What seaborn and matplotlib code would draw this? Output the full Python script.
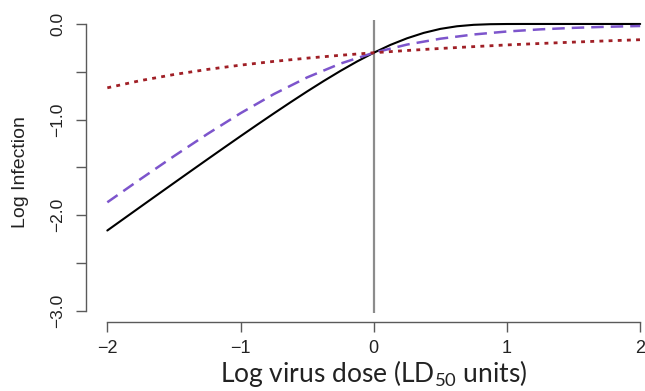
import matplotlib
matplotlib.use("Agg")
import matplotlib.pyplot as plt
import seaborn as sns
import numpy as np

# ---- data ----
x_fine = [-2.0, -1.875, -1.75, -1.625, -1.5, -1.375, -1.25, -1.125, -1.0, -0.875,
          -0.75, -0.625, -0.5, -0.375, -0.25, -0.125, 0.0, 0.125, 0.25, 0.375,
          0.5, 0.625, 0.75, 0.875, 1.0, 1.125, 1.25, 1.375, 1.5, 1.625, 1.75, 1.875, 2.0]
black_y = [-2.1607, -2.0362, -1.9118, -1.7877, -1.6639, -1.5405, -1.4176, -1.2954, -1.1741, -1.0541,
           -0.9357, -0.8194, -0.7059, -0.5961, -0.4911, -0.3922, -0.3010, -0.2189, -0.1497, -0.0933,
           -0.0514, -0.0240, -0.0089, -0.0024, -0.0004, 0.0, 0.0, 0.0, 0.0, 0.0, 0.0, 0.0, 0.0]

x_coarse = [-2.0, -1.75, -1.5, -1.25, -1.0, -0.75, -0.5, -0.25, 0.0,
            0.25, 0.5, 0.75, 1.0, 1.25, 1.5, 1.75, 2.0]
purple_y = [-1.8655, -1.6219, -1.3831, -1.1521, -0.9336, -0.7337, -0.5591, -0.4145, -0.3010,
            -0.2154, -0.1542, -0.1100, -0.0787, -0.0564, -0.0406, -0.0293, -0.0212]
red_y = [-0.6679, -0.5921, -0.5290, -0.4758, -0.4305, -0.3915, -0.3574, -0.3275, -0.3010,
         -0.2774, -0.2562, -0.2371, -0.2192, -0.2041, -0.1898, -0.1767, -0.1646]

x_ticks = [-2, -1, 0, 1, 2]
x_ticklabels = ["\u22122", "\u22121", "0", "1", "2"]
y_ticks = [-3.0, -2.5, -2.0, -1.5, -1.0, -0.5, 0.0]
y_ticklabels = ["\u22123.0", "", "\u22122.0", "", "\u22121.0", "", "0.0"]
vline_x = 0.0
vline_span = [-3.02, 0.04]

x_label = "Log virus dose (LD$_{50}$ units)"
y_label = "Log Infection"

# ---- style ----
sns.set_style("ticks")
plt.rcParams["font.family"] = ["Liberation Sans", "DejaVu Sans"]
plt.rcParams["mathtext.fontset"] = "custom"
plt.rcParams["mathtext.rm"] = "Lato"
plt.rcParams["mathtext.it"] = "Lato:italic"
plt.rcParams["mathtext.default"] = "regular"

axis_col = "#5a5a5a"

fig = plt.figure(figsize=(6.45, 3.91), dpi=100)
ax = fig.add_axes([86 / 645, (391 - 322.2) / 391, (661.5 - 86) / 645, (322.2 - 12.5) / 391])

ax.vlines(vline_x, vline_span[0], vline_span[1], color="#8c8c8c", lw=1.6, zorder=1)

sns.lineplot(x=x_fine, y=black_y, ax=ax, color="black", lw=1.5, zorder=3)
sns.lineplot(x=x_coarse, y=purple_y, ax=ax, color="#7d55cc", lw=1.8,
             linestyle=(0, (5, 2.8)), zorder=3)
sns.lineplot(x=x_coarse, y=red_y, ax=ax, color="#a01f26", lw=2.0,
             linestyle=(0, (1.4, 1.9)), zorder=3)

ax.set_xlim(-2.16, 2.16)
ax.set_ylim(-3.12, 0.12)

sns.despine(ax=ax)
ax.spines["left"].set_bounds(-3.0, 0.0)
ax.spines["bottom"].set_bounds(-2.0, 2.0)
for s in ("left", "bottom"):
    ax.spines[s].set_color(axis_col)
    ax.spines[s].set_linewidth(1.0)

ax.set_xticks(x_ticks)
ax.set_xticklabels(x_ticklabels, fontsize=13, color="#222222")
ax.set_yticks(y_ticks)
ax.set_yticklabels(y_ticklabels, fontsize=12.5, color="#222222", rotation=90, va="center")
ax.tick_params(axis="both", direction="out", length=7.2, width=1.0, color=axis_col)
ax.tick_params(axis="x", pad=5.5)
ax.tick_params(axis="y", pad=8.0)

ax.set_xlabel(x_label, fontsize=19, family=["Lato", "DejaVu Sans"], color="#222222", labelpad=0.5)
ax.set_ylabel(y_label, fontsize=14, color="#222222", va="center")
ax.yaxis.set_label_coords((21 - 86) / 575.5, 0.485)

fig.savefig("out.png", dpi=100)
